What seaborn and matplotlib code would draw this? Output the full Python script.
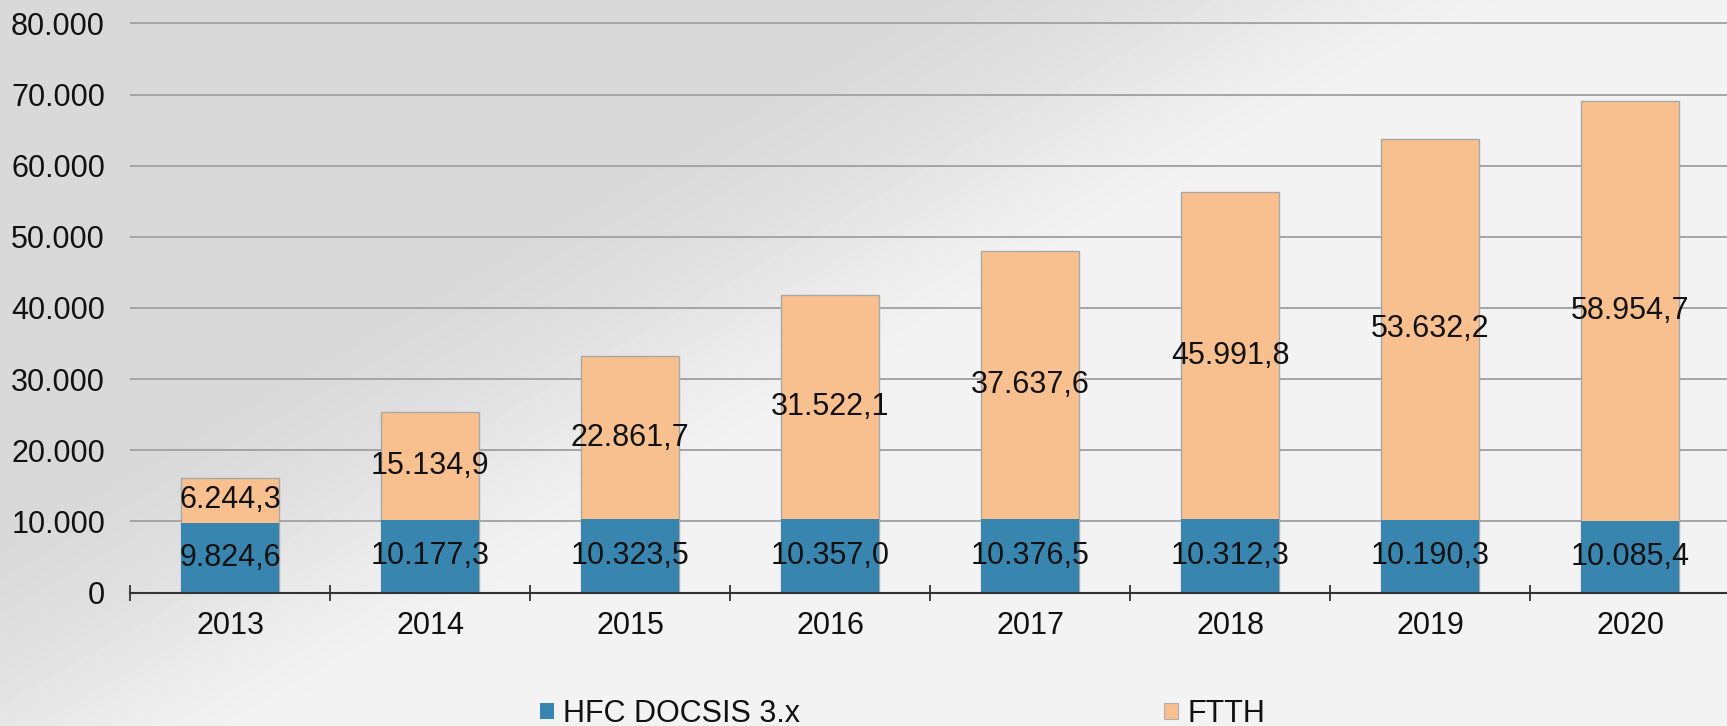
import numpy as np
import pandas as pd
import matplotlib
matplotlib.use("Agg")
import matplotlib.pyplot as plt
from matplotlib.patches import Patch
from matplotlib.ticker import FuncFormatter, FixedLocator
import seaborn as sns

# data
years = ["2013", "2014", "2015", "2016", "2017", "2018", "2019", "2020"]
hfc = [9824.6, 10177.3, 10323.5, 10357.0, 10376.5, 10312.3, 10190.3, 10085.4]
ftth = [6244.3, 15134.9, 22861.7, 31522.1, 37637.6, 45991.8, 53632.2, 58954.7]
series_names = ["HFC DOCSIS 3.x", "FTTH"]

blue = "#3886b0"
orange = "#f9c08f"

sns.set_theme(style="white")
plt.rcParams["font.family"] = ["Liberation Sans", "DejaVu Sans"]
fs = 22

df = pd.DataFrame({"year": years, "hfc": hfc, "ftth": ftth})
df["total"] = df["hfc"] + df["ftth"]

fig = plt.figure(figsize=(17.27, 7.26), dpi=100)

# soft grey background gradient
bg_ax = fig.add_axes([0, 0, 1, 1], zorder=-1)
gx, gy = np.meshgrid(np.arange(1727), np.arange(726))
u = gx + 1.72 * gy
t = np.clip((u - 900) / 700, 0, 1)
t = t * t * (3 - 2 * t)
bg = 0.85 + (0.955 - 0.85) * t
bg_ax.imshow(bg, cmap="gray", vmin=0, vmax=1, aspect="auto", interpolation="bilinear")
bg_ax.axis("off")

ytop = 80600
px_per_unit = 569 / 80000
ax = fig.add_axes([130 / 1727, (726 - 592.5) / 726, 1600 / 1727, ytop * px_per_unit / 726])
ax.set_facecolor("none")

sns.barplot(data=df, x="year", y="total", color=orange, width=0.49,
            edgecolor="#a8a8a8", linewidth=1.0, saturation=1, ax=ax, zorder=3)
sns.barplot(data=df, x="year", y="hfc", color=blue, width=0.49,
            linewidth=0, saturation=1, ax=ax, zorder=4)


def eu(v):
    return f"{v:,.1f}".replace(",", "X").replace(".", ",").replace("X", ".")


for i, row in df.iterrows():
    ax.text(i, row["hfc"] / 2, eu(row["hfc"]), ha="center", va="center",
            fontsize=fs, color="#111111", zorder=6)
    ax.text(i, row["hfc"] + row["ftth"] / 2, eu(row["ftth"]), ha="center",
            va="center", fontsize=fs, color="#111111", zorder=6)

ax.set_xlim(-0.5, 7.5)
ax.set_ylim(0, ytop)
ax.set_yticks(np.arange(0, 80001, 10000))
ax.yaxis.set_major_formatter(FuncFormatter(lambda v, p: f"{int(v):,}".replace(",", ".")))
ax.grid(axis="y", color="#a5a5a5", linewidth=1.4, zorder=0)
ax.grid(axis="x", visible=False)
ax.set_axisbelow(True)

for s in ["top", "right", "left"]:
    ax.spines[s].set_visible(False)
ax.spines["bottom"].set_color("#333333")
ax.spines["bottom"].set_linewidth(1.5)
ax.spines["bottom"].set_zorder(5)

ax.xaxis.set_minor_locator(FixedLocator(np.arange(-0.5, 8, 1)))
ax.tick_params(axis="x", which="major", length=0, pad=13, labelsize=fs, labelcolor="#111111")
ax.tick_params(axis="x", which="minor", direction="inout", length=12, width=1.3,
               color="#333333", bottom=True)
ax.tick_params(axis="y", length=0, pad=18, labelsize=fs, labelcolor="#111111")
ax.set_xlabel("")
ax.set_ylabel("")

handles = [Patch(facecolor=blue, edgecolor="none"),
           Patch(facecolor=orange, edgecolor="#b0b0b0", linewidth=0.8)]
fig.legend(handles, series_names, ncol=2, loc="center left",
           bbox_to_anchor=(540 / 1727, (726 - 714) / 726), frameon=False,
           fontsize=fs, handlelength=0.46, handleheight=0.46, handletextpad=0.3,
           columnspacing=11.9, borderpad=0, borderaxespad=0, labelcolor="#111111")

fig.savefig("out.png", dpi=100)
